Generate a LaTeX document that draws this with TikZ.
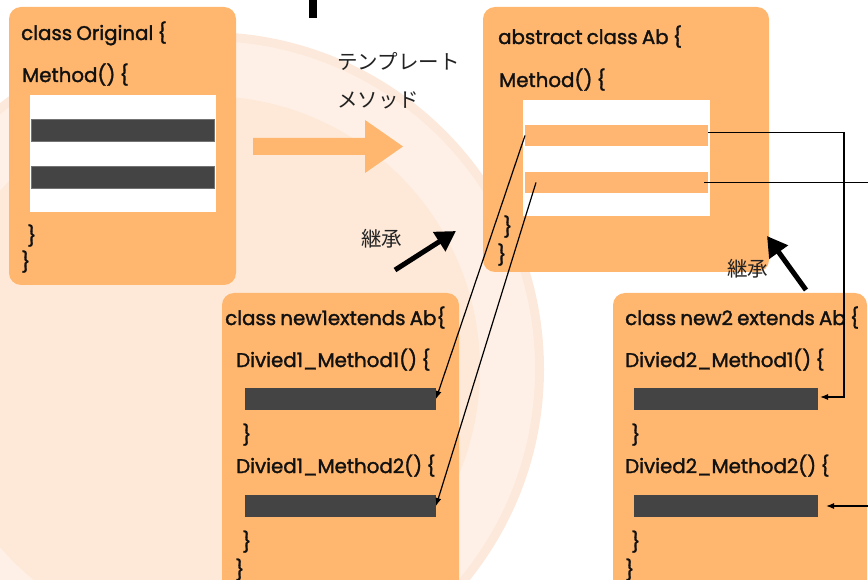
\documentclass[tikz,border=0pt]{standalone}
\usepackage{fontspec}
\setmainfont{Poppins}[FakeBold=1.6, WordSpace=0.8]
\newfontfamily\jpfont{Noto Sans CJK JP}
\usetikzlibrary{arrows.meta,calc}

\definecolor{boxorange}{HTML}{FFB66E}
\definecolor{barorange}{HTML}{FFB672}
\definecolor{bardark}{HTML}{444444}
\definecolor{discinner}{HTML}{FEE9D8}
\definecolor{discmid}{HTML}{FEF0E6}
\definecolor{discedge}{HTML}{FDE9DB}
\definecolor{inktext}{HTML}{111111}
\definecolor{jptext}{HTML}{222222}

\tikzset{
  classbox/.style={anchor=north west, fill=boxorange, rounded corners=12pt,
    inner sep=0pt, outer sep=0pt},
  whitepad/.style={anchor=north west, fill=white, inner sep=0pt, outer sep=0pt},
  darkbar/.style={anchor=north west, fill=bardark, inner sep=0pt, outer sep=0pt},
  framedbar/.style={darkbar, draw=black!55, line width=0.8pt},
  hookbar/.style={anchor=north west, fill=barorange, inner sep=0pt, outer sep=0pt},
  code/.style={anchor=base west, inner sep=0pt, text=inktext,
    font=\fontsize{19.8}{24}\selectfont},
  jplabel/.style={anchor=base west, inner sep=0pt, text=jptext,
    font=\jpfont\fontsize{20.5}{24}\selectfont},
  link/.style={draw=black, line width=1.2pt, -{Latex[length=8pt,width=6pt]}},
  inherit/.style={draw=black, line width=5pt, -{Triangle[length=20pt,width=22pt]}},
}

\begin{document}
\begin{tikzpicture}[x=1pt,y=-1pt]
\useasboundingbox (0,0) rectangle (868,580);
\clip (0,0) rectangle (868,580);

% background disc
\fill[discedge] (207,369) circle[radius=337];
\fill[discmid] (207,369) circle[radius=328];
\fill[discinner] (207,369) circle[radius=273];

% fragment of the heading above the frame
\fill[black] (309,0) rectangle (317,18);

% class Original
\node[classbox, minimum width=227pt, minimum height=278pt] (orig) at (9,7) {};
\node[code] (origtitle) at (21,40) {class Original \{};
\node[code] (origmeth) at (22,82) {Method() \{};
\node[whitepad, minimum width=186pt, minimum height=117pt] (origpad) at (30,95) {};
\node[framedbar, minimum width=183pt, minimum height=22pt] (origbar1) at (31,119) {};
\node[framedbar, minimum width=183pt, minimum height=22pt] (origbar2) at (31,166) {};
\node[code] (origclose1) at (27,243) {\}};
\node[code] (origclose2) at (21,269) {\}};

% template method arrow
\fill[boxorange] (253,138) -- (365,138) -- (365,120) -- (403,146.5)
  -- (365,173) -- (365,155) -- (253,155) -- cycle;
\node[jplabel] (tmpl1) at (337,70) {テンプレート};
\node[jplabel] (tmpl2) at (337,108) {メソッド};

% abstract class Ab
\node[classbox, minimum width=286pt, minimum height=265pt] (ab) at (483,7) {};
\node[code] (abtitle) at (498,44) {abstract class Ab \{};
\node[code] (abmeth) at (499,87) {Method() \{};
\node[whitepad, minimum width=187pt, minimum height=116pt] (abpad) at (523,100) {};
\node[hookbar, minimum width=183pt, minimum height=21pt] (abbar1) at (525,125) {};
\node[hookbar, minimum width=183pt, minimum height=21pt] (abbar2) at (525,172) {};
\node[code] (abclose1) at (503,234) {\}};
\node[code] (abclose2) at (497,262) {\}};

% class new1
\node[classbox, minimum width=237pt, minimum height=310pt] (newa) at (222,293) {};
\node[code] (newatitle) at (225,325) {class new1extends Ab\{};
\node[code] (newam1) at (236,367) {Divied1\_Method1() \{};
\node[darkbar, minimum width=191pt, minimum height=22pt] (newabar1) at (245,388) {};
\node[code] (newaclose1) at (242,442) {\}};
\node[code] (newam2) at (236,473) {Divied1\_Method2() \{};
\node[darkbar, minimum width=191pt, minimum height=22pt] (newabar2) at (245,495) {};
\node[code] (newaclose2) at (242,549) {\}};
\node[code] (newaclose3) at (235,577) {\}};

% class new2
\node[classbox, minimum width=254pt, minimum height=310pt] (newb) at (613,293) {};
\node[code] (newbtitle) at (625,325) {class new2 extends Ab \{};
\node[code] (newbm1) at (625,367) {Divied2\_Method1() \{};
\node[darkbar, minimum width=184pt, minimum height=22pt] (newbbar1) at (634,388) {};
\node[code] (newbclose1) at (631,442) {\}};
\node[code] (newbm2) at (625,473) {Divied2\_Method2() \{};
\node[darkbar, minimum width=184pt, minimum height=22pt] (newbbar2) at (634,495) {};
\node[code] (newbclose2) at (631,549) {\}};
\node[code] (newbclose3) at (625,577) {\}};

% inheritance arrows
\coordinate (inhAfrom) at (395,270);
\coordinate (inhAto) at (456,231);
\draw[inherit] (inhAfrom) -- (inhAto);
\node[jplabel] (inhAlabel) at (361,247) {継承};
\coordinate (inhBfrom) at (806,290);
\coordinate (inhBto) at (767,236);
\draw[inherit] (inhBfrom) -- (inhBto);
\node[jplabel] (inhBlabel) at (727,277) {継承};

% hook methods routed to the subclasses
\draw[link] (abbar1.west) -- (newabar1.east);
\draw[link] ($(abbar2.west)+(11,0)$) -- (newabar2.east);
\coordinate (routeA) at (844,0);
\coordinate (routeB) at (885,0);
\coordinate (abhook1) at ($(abbar1.east)+(0,-3)$);
\coordinate (abhook2) at ($(abbar2.east)+(-4,0)$);
\coordinate (newbtip1) at ($(newbbar1.east)+(2,-2)$);
\coordinate (newbtip2) at ($(newbbar2.east)+(8,0)$);
\draw[link] (abhook1) -- (abhook1 -| routeA) |- (newbtip1);
\draw[link] (abhook2) -- (abhook2 -| routeB) |- (newbtip2);
\end{tikzpicture}
\end{document}
